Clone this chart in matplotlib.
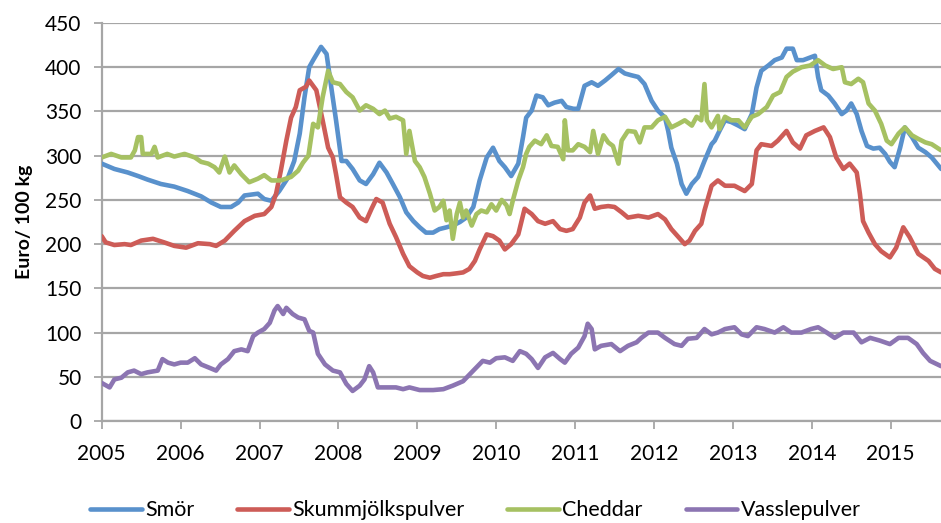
import matplotlib
matplotlib.use("Agg")
import matplotlib.pyplot as plt

# ---------------- data ----------------
smor_x = [2005.0, 2005.16, 2005.33, 2005.46, 2005.58, 2005.75, 2005.92, 2006.09, 2006.26, 2006.39,
          2006.51, 2006.64, 2006.73, 2006.81, 2006.98, 2007.06, 2007.15, 2007.25, 2007.36, 2007.44,
          2007.51, 2007.57, 2007.63, 2007.68, 2007.78, 2007.85, 2007.91, 2007.97, 2008.04, 2008.1,
          2008.18, 2008.27, 2008.35, 2008.44, 2008.52, 2008.61, 2008.69, 2008.78, 2008.86, 2008.95,
          2009.03, 2009.11, 2009.2, 2009.28, 2009.37, 2009.45, 2009.54, 2009.62, 2009.71, 2009.79,
          2009.88, 2009.96, 2010.04, 2010.11, 2010.19, 2010.28, 2010.34, 2010.38, 2010.45, 2010.51,
          2010.59, 2010.66, 2010.74, 2010.83, 2010.89, 2010.98, 2011.04, 2011.12, 2011.21, 2011.29,
          2011.38, 2011.46, 2011.55, 2011.63, 2011.71, 2011.8, 2011.88, 2011.97, 2012.05, 2012.14,
          2012.18, 2012.22, 2012.29, 2012.35, 2012.41, 2012.48, 2012.56, 2012.64, 2012.73, 2012.77,
          2012.83, 2012.9, 2012.98, 2013.07, 2013.15, 2013.24, 2013.3, 2013.36, 2013.45, 2013.53,
          2013.62, 2013.68, 2013.76, 2013.81, 2013.89, 2013.98, 2014.04, 2014.08, 2014.12, 2014.21,
          2014.29, 2014.38, 2014.44, 2014.5, 2014.57, 2014.63, 2014.7, 2014.78, 2014.86, 2014.93,
          2014.99, 2015.05, 2015.12, 2015.18, 2015.27, 2015.35, 2015.44, 2015.52, 2015.64]
smor_y = [291, 285, 281, 277, 273, 268, 265, 260, 254, 247,
          242, 242, 247, 255, 257, 251, 249, 260, 275, 294,
          325, 366, 400, 408, 423, 415, 377, 340, 294, 294,
          285, 272, 268, 279, 292, 281, 268, 253, 236, 226,
          219, 213, 213, 217, 219, 221, 225, 230, 242, 272,
          298, 309, 294, 287, 277, 291, 321, 343, 351, 368,
          366, 357, 360, 362, 355, 353, 353, 379, 383, 379,
          385, 391, 398, 393, 391, 389, 381, 362, 351, 343,
          328, 309, 291, 268, 257, 268, 276, 294, 313, 317,
          328, 340, 338, 334, 330, 347, 377, 396, 402, 408,
          411, 421, 421, 408, 408, 411, 413, 389, 374, 368,
          359, 347, 351, 359, 347, 328, 311, 308, 309, 302,
          293, 287, 309, 332, 321, 309, 304, 298, 285]

skum_x = [2005.0, 2005.05, 2005.16, 2005.29, 2005.37, 2005.5, 2005.65, 2005.79, 2005.92, 2006.07,
          2006.22, 2006.37, 2006.45, 2006.56, 2006.68, 2006.81, 2006.94, 2007.06, 2007.15, 2007.21,
          2007.27, 2007.34, 2007.4, 2007.46, 2007.51, 2007.59, 2007.63, 2007.72, 2007.8, 2007.87,
          2007.93, 2007.97, 2008.02, 2008.1, 2008.18, 2008.27, 2008.35, 2008.42, 2008.48, 2008.56,
          2008.65, 2008.73, 2008.82, 2008.9, 2009.0, 2009.07, 2009.16, 2009.24, 2009.33, 2009.41,
          2009.5, 2009.58, 2009.66, 2009.73, 2009.79, 2009.88, 2009.96, 2010.04, 2010.11, 2010.19,
          2010.28, 2010.36, 2010.45, 2010.53, 2010.62, 2010.72, 2010.81, 2010.89, 2010.97, 2011.06,
          2011.12, 2011.19, 2011.25, 2011.33, 2011.42, 2011.5, 2011.59, 2011.67, 2011.8, 2011.93,
          2012.05, 2012.14, 2012.22, 2012.31, 2012.39, 2012.45, 2012.52, 2012.6, 2012.64, 2012.73,
          2012.81, 2012.9, 2013.02, 2013.15, 2013.24, 2013.3, 2013.36, 2013.49, 2013.57, 2013.68,
          2013.76, 2013.85, 2013.93, 2014.04, 2014.15, 2014.23, 2014.31, 2014.4, 2014.48, 2014.57,
          2014.61, 2014.65, 2014.72, 2014.8, 2014.88, 2014.99, 2015.07, 2015.16, 2015.24, 2015.35,
          2015.48, 2015.56, 2015.64]
skum_y = [209, 202, 199, 200, 199, 204, 206, 202, 198, 196,
          201, 200, 198, 204, 215, 226, 232, 234, 242, 257,
          283, 317, 343, 355, 374, 378, 385, 374, 340, 309,
          298, 279, 253, 247, 242, 230, 226, 240, 251, 247,
          223, 208, 189, 175, 168, 164, 162, 164, 166, 166,
          167, 168, 172, 181, 194, 211, 209, 204, 194, 200,
          211, 240, 234, 226, 223, 226, 217, 215, 217, 230,
          247, 255, 240, 242, 243, 242, 236, 230, 232, 230,
          234, 228, 217, 208, 200, 204, 215, 223, 238, 266,
          272, 266, 266, 260, 268, 306, 313, 311, 317, 328,
          315, 308, 323, 328, 332, 321, 298, 285, 291, 281,
          257, 226, 213, 200, 192, 185, 196, 219, 208, 189,
          181, 172, 168]

ched_x = [2005.0, 2005.12, 2005.25, 2005.37, 2005.42, 2005.46, 2005.5, 2005.52, 2005.63, 2005.67,
          2005.71, 2005.83, 2005.92, 2006.05, 2006.18, 2006.26, 2006.35, 2006.43, 2006.49, 2006.56,
          2006.62, 2006.68, 2006.77, 2006.87, 2006.98, 2007.06, 2007.15, 2007.27, 2007.4, 2007.49,
          2007.55, 2007.62, 2007.68, 2007.74, 2007.8, 2007.87, 2007.93, 2008.02, 2008.1, 2008.18,
          2008.27, 2008.35, 2008.44, 2008.52, 2008.59, 2008.65, 2008.73, 2008.82, 2008.86, 2008.9,
          2008.97, 2009.03, 2009.09, 2009.16, 2009.22, 2009.28, 2009.33, 2009.37, 2009.41, 2009.45,
          2009.5, 2009.54, 2009.58, 2009.62, 2009.69, 2009.75, 2009.81, 2009.88, 2009.94, 2010.0,
          2010.07, 2010.13, 2010.17, 2010.21, 2010.28, 2010.34, 2010.38, 2010.42, 2010.49, 2010.57,
          2010.64, 2010.7, 2010.78, 2010.85, 2010.87, 2010.91, 2010.97, 2011.04, 2011.12, 2011.19,
          2011.23, 2011.29, 2011.36, 2011.42, 2011.48, 2011.55, 2011.59, 2011.67, 2011.76, 2011.82,
          2011.88, 2011.97, 2012.05, 2012.14, 2012.22, 2012.31, 2012.39, 2012.48, 2012.54, 2012.6,
          2012.64, 2012.67, 2012.73, 2012.81, 2012.83, 2012.9, 2012.98, 2013.07, 2013.15, 2013.24,
          2013.32, 2013.43, 2013.51, 2013.6, 2013.68, 2013.76, 2013.87, 2013.98, 2014.08, 2014.17,
          2014.27, 2014.38, 2014.42, 2014.5, 2014.59, 2014.65, 2014.72, 2014.8, 2014.88, 2014.95,
          2015.01, 2015.1, 2015.18, 2015.27, 2015.35, 2015.44, 2015.52, 2015.64]
ched_y = [298, 302, 298, 298, 306, 321, 321, 302, 302, 310,
          298, 302, 299, 302, 298, 293, 291, 287, 281, 299,
          281, 289, 279, 270, 274, 278, 272, 272, 276, 283,
          292, 300, 336, 332, 366, 396, 383, 381, 372, 366,
          351, 357, 353, 347, 351, 342, 344, 340, 302, 328,
          294, 287, 276, 257, 238, 242, 249, 227, 238, 206,
          234, 247, 230, 238, 221, 234, 238, 236, 245, 238,
          250, 244, 234, 249, 272, 287, 302, 310, 317, 313,
          323, 311, 310, 296, 340, 306, 306, 313, 310, 304,
          328, 302, 323, 315, 311, 291, 317, 328, 327, 315,
          332, 332, 340, 344, 332, 336, 340, 334, 344, 340,
          381, 340, 332, 345, 330, 344, 340, 340, 332, 344,
          347, 355, 368, 372, 389, 395, 400, 402, 408, 402,
          398, 400, 383, 381, 387, 383, 359, 351, 336, 317,
          313, 325, 332, 323, 319, 315, 313, 306]

vass_x = [2005.0, 2005.1, 2005.16, 2005.25, 2005.33, 2005.41, 2005.5, 2005.58, 2005.71, 2005.77,
          2005.84, 2005.92, 2006.0, 2006.09, 2006.18, 2006.26, 2006.37, 2006.45, 2006.51, 2006.6,
          2006.68, 2006.77, 2006.85, 2006.92, 2006.98, 2007.06, 2007.13, 2007.19, 2007.23, 2007.3,
          2007.34, 2007.42, 2007.49, 2007.57, 2007.63, 2007.68, 2007.74, 2007.83, 2007.93, 2008.02,
          2008.1, 2008.18, 2008.27, 2008.33, 2008.39, 2008.44, 2008.5, 2008.61, 2008.73, 2008.82,
          2008.9, 2009.03, 2009.2, 2009.33, 2009.45, 2009.58, 2009.71, 2009.83, 2009.92, 2010.0,
          2010.11, 2010.21, 2010.3, 2010.38, 2010.45, 2010.53, 2010.62, 2010.72, 2010.81, 2010.87,
          2010.95, 2011.04, 2011.12, 2011.16, 2011.21, 2011.25, 2011.33, 2011.46, 2011.57, 2011.67,
          2011.78, 2011.84, 2011.93, 2012.05, 2012.14, 2012.26, 2012.35, 2012.43, 2012.54, 2012.64,
          2012.73, 2012.81, 2012.9, 2013.02, 2013.11, 2013.19, 2013.3, 2013.4, 2013.53, 2013.64,
          2013.74, 2013.87, 2013.99, 2014.08, 2014.19, 2014.29, 2014.4, 2014.53, 2014.63, 2014.74,
          2014.86, 2014.99, 2015.1, 2015.22, 2015.33, 2015.41, 2015.5, 2015.64]
vass_y = [43, 38, 47, 49, 55, 57, 53, 55, 57, 70,
          66, 64, 66, 66, 71, 64, 60, 57, 64, 70,
          79, 81, 79, 96, 100, 104, 111, 125, 130, 121,
          128, 121, 117, 115, 102, 100, 76, 64, 57, 55,
          42, 34, 40, 47, 62, 55, 38, 38, 38, 36,
          38, 35, 35, 36, 40, 45, 57, 68, 66, 71,
          72, 68, 79, 76, 70, 60, 72, 77, 70, 66,
          76, 83, 96, 110, 104, 81, 85, 87, 79, 85,
          89, 94, 100, 100, 94, 87, 85, 93, 94, 104,
          98, 100, 104, 106, 98, 96, 106, 104, 100, 106,
          100, 100, 104, 106, 100, 94, 100, 100, 89, 94,
          91, 87, 94, 94, 87, 77, 68, 62]

series_names = ["Smör", "Skummjölkspulver", "Cheddar", "Vasslepulver"]
year_ticks = list(range(2005, 2016))
y_ticks = list(range(0, 451, 50))
y_label = "Euro/ 100 kg"

# ---------------- style ----------------
colors = ["#5991CC", "#CD5C57", "#A6C162", "#8C75B2"]
grid_col = "#A6A6A6"
plt.rcParams["font.family"] = ["Lato", "DejaVu Sans"]

fig = plt.figure(figsize=(9.41, 5.23), dpi=100)
ax = fig.add_axes([0.1081, 0.195, 0.8919, 0.761])

for xs, ys, c, name in zip([smor_x, skum_x, ched_x, vass_x],
                           [smor_y, skum_y, ched_y, vass_y], colors, series_names):
    ax.plot(xs, ys, color=c, lw=3.3, label=name, solid_joinstyle="round",
            solid_capstyle="round", zorder=3)

ax.set_xlim(2005, 2015.638)
ax.set_ylim(0, 450)
ax.set_xticks(year_ticks)
ax.set_xticklabels([str(t) for t in year_ticks])
ax.set_yticks(y_ticks)
ax.yaxis.grid(True, color=grid_col, lw=1.6, zorder=0)
ax.set_axisbelow(True)
for s in ["top", "right"]:
    ax.spines[s].set_visible(False)
for s in ["left", "bottom"]:
    ax.spines[s].set_color(grid_col)
    ax.spines[s].set_linewidth(1.6)
ax.tick_params(axis="both", colors=grid_col, length=5.5, width=1.3, direction="out",
               labelcolor="black", labelsize=15)
ax.tick_params(axis="x", pad=11)
ax.tick_params(axis="y", pad=9)
ax.set_ylabel(y_label, fontsize=14, fontweight="bold", labelpad=9)

fig.legend(loc="center", bbox_to_anchor=(0.505, 0.024), ncol=4, frameon=False,
           fontsize=15.5, handlelength=2.4, columnspacing=2.0, handletextpad=0.15)

fig.savefig("out.png", dpi=100)
